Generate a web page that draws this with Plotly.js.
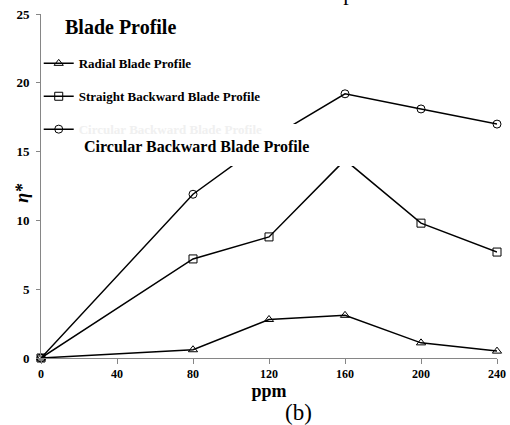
<!DOCTYPE html>
<html>
<head>
<meta charset="utf-8">
<script src="https://cdn.plot.ly/plotly-3.0.1.min.js"></script>
<style>html,body{margin:0;padding:0;background:#fff}#chart{width:510px;height:425px}</style>
</head>
<body>
<div id="chart"></div>
<script>
// Data
var ppm = [0, 80, 120, 160, 200, 240];
var radial = [0, 0.6, 2.8, 3.1, 1.1, 0.5];
var straightBackward = [0, 7.2, 8.8, 14.4, 9.8, 7.7];
var circularBackward = [0, 11.9, 15.9, 19.2, 18.1, 17.0];
var seriesNames = ["Radial Blade Profile", "Straight Backward Blade Profile", "Circular Backward Blade Profile"];
var xTicks = [0, 40, 80, 120, 160, 200, 240];
var yTicks = [0, 5, 10, 15, 20, 25];

var serif = "Liberation Serif, Times New Roman, serif";

function series(y, name, symbol, group, legendName) {
  return {
    x: ppm, y: y, name: legendName || name, type: "scatter", mode: "lines+markers",
    legendgroup: group, cliponaxis: false,
    line: {color: "#000", width: 1.5},
    marker: {symbol: symbol, size: 8, color: "#000", line: {color: "#000", width: 1}}
  };
}

var traces = [
  series(radial, seriesNames[0], "triangle-up-open", "a"),
  series(straightBackward, seriesNames[1], "square-open", "b"),
  series(circularBackward, seriesNames[2], "circle-open", "c",
         '<span style="color:#f0f0f0">' + seriesNames[2] + '</span>')
];

var layout = {
  width: 510, height: 425,
  margin: {l: 41, r: 13, t: 14, b: 67},
  paper_bgcolor: "#fff", plot_bgcolor: "#fff",
  showlegend: true,
  font: {family: serif, color: "#000"},
  xaxis: {
    range: [0, 240], tickvals: xTicks, ticktext: xTicks.map(String),
    showgrid: false, zeroline: false, showline: true, linecolor: "#868686", linewidth: 1,
    ticks: "outside", ticklen: 5, tickcolor: "#868686", tickwidth: 1,
    tickfont: {family: serif, size: 12, weight: "bold", color: "#000"},
    title: {text: "ppm", font: {family: serif, size: 18, weight: "bold", color: "#000"}, standoff: 0}
  },
  yaxis: {
    range: [0, 25], tickvals: yTicks, ticktext: yTicks.map(String),
    showgrid: false, zeroline: false, showline: true, linecolor: "#868686", linewidth: 1,
    ticks: "outside", ticklen: 4, tickcolor: "#868686", tickwidth: 1,
    ticklabelstandoff: 4,
    tickfont: {family: serif, size: 13, weight: "bold", color: "#000"}
  },
  legend: {
    x: -0.005, y: 0.9, xanchor: "left", yanchor: "top",
    bgcolor: "rgba(0,0,0,0)", borderwidth: 0,
    font: {family: serif, size: 13, weight: "bold", color: "#000"},
    tracegroupgap: 13
  },
  shapes: [{
    type: "rect", xref: "paper", yref: "paper", layer: "above",
    x0: 0.055, x1: 0.72, y0: 0.558, y1: 0.68,
    fillcolor: "#fff", line: {width: 0}
  }],
  annotations: [
    {text: "<b><i>η*</i></b>", xref: "paper", yref: "paper", x: -0.042, y: 0.48, textangle: -90,
     xanchor: "center", yanchor: "middle", showarrow: false, font: {family: serif, size: 18, color: "#000"}},
    {text: "<b>Blade Profile</b>", xref: "paper", yref: "paper", x: 0.048, y: 0.962,
     xanchor: "left", yanchor: "middle", showarrow: false, font: {family: serif, size: 20, color: "#000"}},
    {text: "<b>" + seriesNames[2] + "</b>", xref: "paper", yref: "paper", x: 0.342, y: 0.616,
     xanchor: "center", yanchor: "middle", showarrow: false, font: {family: serif, size: 16, color: "#000"}},
    {text: "backward blade profile", xref: "paper", yref: "paper", x: 0.57, y: 1.019,
     xanchor: "center", yanchor: "bottom", showarrow: false, font: {family: serif, size: 22, color: "#000"}},
    {text: "(b)", xref: "paper", yref: "paper", x: 0.5636, y: -0.157,
     xanchor: "center", yanchor: "middle", showarrow: false, font: {family: serif, size: 23, color: "#000"}}
  ]
};

Plotly.newPlot("chart", traces, layout, {displayModeBar: false, staticPlot: true});
</script>
</body>
</html>
